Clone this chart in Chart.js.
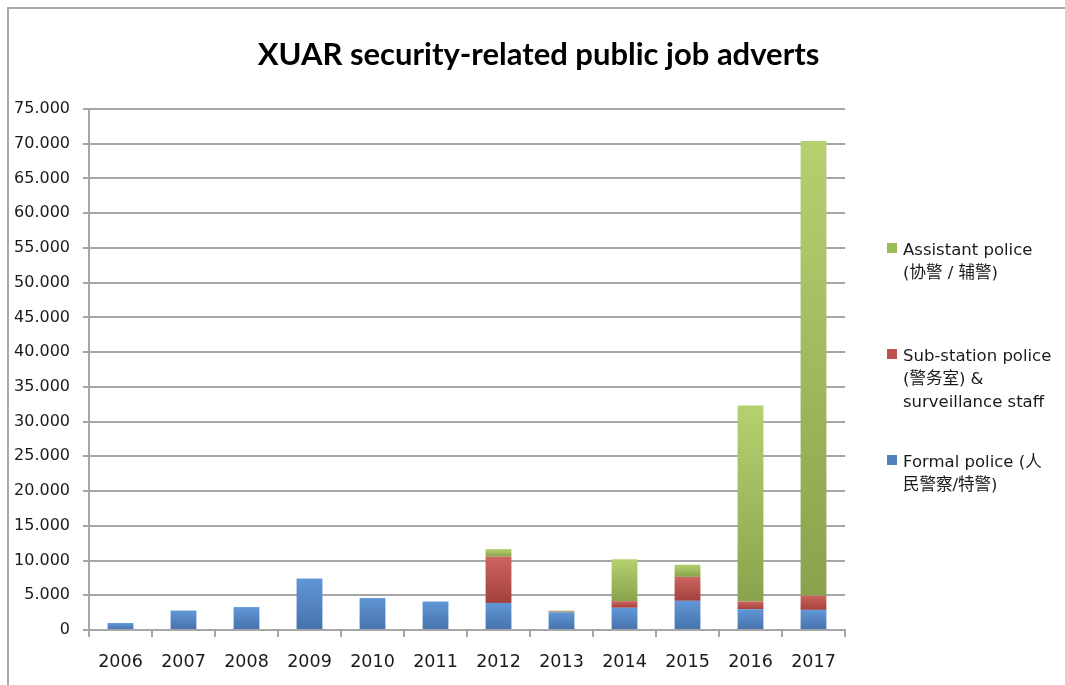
<!DOCTYPE html>
<html>
<head>
<meta charset="utf-8">
<script src="https://cdn.jsdelivr.net/npm/chart.js@4/dist/chart.umd.min.js"></script>
<style>
    html, body { margin: 0; padding: 0; background: #fff; }
    .wrap { position: relative; width: 1065px; height: 685px; overflow: hidden; }
    .frame { position: absolute; left: 7px; top: 7px; width: 1100px; height: 700px;
        border-left: 2px solid #a9a9a9; border-top: 2px solid #a9a9a9; }
    canvas { position: absolute; left: 0; top: 0; }
    .legend { position: absolute; left: 887px; top: 239px; font-family: "DejaVu Sans", "Noto Sans CJK SC", sans-serif;
        font-size: 16.5px; color: #1a1a1a; }
    .legend-item { position: relative; height: 106px; }
    .legend-dot { position: absolute; left: 0; top: 4px; width: 10px; height: 10px; }
    .legend-text { position: absolute; left: 16px; top: -1px; line-height: 23px; white-space: pre; }
</style>
</head>
<body>
<div class="wrap">
    <div class="frame"></div>
    <canvas id="jobChart" width="1065" height="685"></canvas>
    <div class="legend" id="jobLegend"></div>
</div>
<script>
const years = ['2006', '2007', '2008', '2009', '2010', '2011', '2012', '2013', '2014', '2015', '2016', '2017'];
const formalPolice = [1000, 2800, 3300, 7400, 4600, 4100, 3900, 2550, 3200, 4200, 3000, 2900];
const substationPolice = [0, 0, 0, 0, 0, 0, 6650, 100, 950, 3450, 1100, 2050];
const assistantPolice = [0, 0, 0, 0, 0, 0, 1100, 130, 6050, 1750, 28200, 65450];
const yTicks = [0, 5000, 10000, 15000, 20000, 25000, 30000, 35000, 40000, 45000, 50000, 55000, 60000, 65000, 70000, 75000];

const seriesLabels = ['Formal police (人\n民警察/特警)', 'Sub-station police\n(警务室) &\nsurveillance staff', 'Assistant police\n(协警 / 辅警)'];
const seriesColors = [
    { top: '#6197d6', bottom: '#4672ab', flat: '#4f81bd' },
    { top: '#cc6560', bottom: '#a4403c', flat: '#c0504d' },
    { top: '#b6d070', bottom: '#8aa24c', flat: '#9bbb59' }
];

function formatTick(value) {
    if (value === 0) return '0';
    return Math.floor(value / 1000) + '.' + String(value % 1000).padStart(3, '0');
}

function barGradient(context) {
    const col = seriesColors[context.datasetIndex];
    const chart = context.chart;
    if (context.type !== 'data' || !chart.chartArea) return col.flat;
    const y = chart.scales.y;
    let base = 0;
    for (let i = 0; i < context.datasetIndex; i++) {
        base += chart.data.datasets[i].data[context.dataIndex] || 0;
    }
    const value = chart.data.datasets[context.datasetIndex].data[context.dataIndex] || 0;
    const top = y.getPixelForValue(base + value);
    const bottom = y.getPixelForValue(base);
    if (!isFinite(top) || !isFinite(bottom) || bottom - top < 1) return col.flat;
    const g = chart.ctx.createLinearGradient(0, top, 0, bottom);
    g.addColorStop(0, col.top);
    g.addColorStop(1, col.bottom);
    return g;
}

const seriesData = [formalPolice, substationPolice, assistantPolice];

new Chart(document.getElementById('jobChart').getContext('2d'), {
    type: 'bar',
    data: {
        labels: years,
        datasets: seriesData.map((data, i) => ({
            label: seriesLabels[i],
            data,
            backgroundColor: barGradient,
            borderWidth: 0,
            categoryPercentage: 1,
            barPercentage: 0.41
        }))
    },
    options: {
        responsive: false,
        animation: false,
        layout: { padding: { left: 12, right: 0, top: 0, bottom: 0 } },
        plugins: {
            legend: { display: false },
            tooltip: { enabled: false },
            title: {
                display: true,
                text: 'XUAR security-related public job adverts',
                color: '#000',
                font: { family: 'Lato', size: 31, weight: 'bold', lineHeight: 1.2 },
                padding: { top: 36.5, bottom: 35.3 }
            }
        },
        scales: {
            x: {
                stacked: true,
                afterFit: (scale) => { scale.height = 55; },
                grid: { display: true, drawOnChartArea: false, drawTicks: true, tickLength: 7, color: '#a6a6a6', lineWidth: 2, offset: true },
                border: { display: true, color: '#a6a6a6', width: 2 },
                ticks: { color: '#1a1a1a', font: { family: 'DejaVu Sans', size: 17.5 }, padding: 15, maxRotation: 0 }
            },
            y: {
                stacked: true,
                min: 0,
                max: 75000,
                afterFit: (scale) => { scale.width = 77; },
                afterBuildTicks: (scale) => { scale.ticks = yTicks.map((v) => ({ value: v })); },
                grid: { color: '#a6a6a6', lineWidth: 2, tickLength: 6 },
                border: { display: true, color: '#a6a6a6', width: 2 },
                ticks: { color: '#1a1a1a', font: { family: 'DejaVu Sans', size: 16 }, padding: 13, callback: (v) => formatTick(v) }
            },
            // empty right-hand box that keeps room for the legend
            legendSpace: {
                type: 'linear',
                position: 'right',
                afterFit: (scale) => { scale.width = 220; },
                grid: { display: false },
                border: { display: false },
                ticks: { display: false }
            }
        }
    }
});

// legend, top series first like the original
const legendEl = document.getElementById('jobLegend');
[2, 1, 0].forEach((i) => {
    const item = document.createElement('div');
    item.className = 'legend-item';
    item.innerHTML = `<span class="legend-dot" style="background:${seriesColors[i].flat}"></span><span class="legend-text"></span>`;
    item.querySelector('.legend-text').textContent = seriesLabels[i];
    legendEl.appendChild(item);
});
</script>
</body>
</html>
